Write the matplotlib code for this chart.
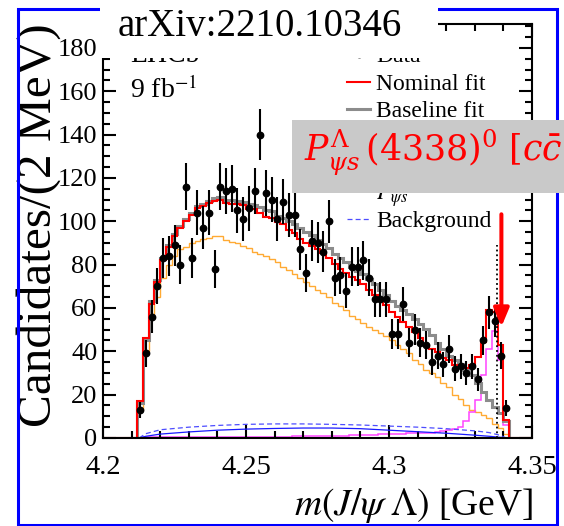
import matplotlib.pyplot as plt
import numpy as np
from matplotlib.patches import FancyArrowPatch, Rectangle
from matplotlib.ticker import MultipleLocator

plt.rcParams['font.family'] = 'Liberation Serif'
plt.rcParams['mathtext.fontset'] = 'stix'

W, H = 564, 526

# 2 MeV bins from 4.200 to 4.350 GeV, the filled ones start at 4.212 GeV
bin_edges = np.round(np.linspace(4.200, 4.350, 76), 3)
first_bin = 6

data = [13, 39, 56, 70, 83, 84, 89, 80, 116, 83,
        104, 97, 104, 78, 116, 114, 115, 105, 101, 106,
        114, 140, 113, 110, 101, 109, 103, 103, 87, 76,
        91, 90, 86, 100, 74, 75, 68, 79, 79, 82,
        74, 64, 64, 64, 48, 48, 62, 44, 50, 44,
        43, 35, 38, 34, 41, 32, 33, 30, 33, 27,
        45, 58, 54, 38, 14]

nominal_fit = [17, 46, 62, 72, 82, 88, 93, 97, 100, 103,
               106, 107, 108.5, 109.5, 110, 108.5, 108, 108, 107.5, 105.5,
               105.5, 104, 102, 101.5, 99.5, 98.5, 96, 94.5, 92, 90,
               88.5, 87, 85.5, 83, 80.5, 78, 76, 74.5, 73, 71,
               68.5, 66, 64, 61.5, 58, 56, 53.5, 51, 49, 46,
               43, 41, 39.5, 37, 36, 33.5, 33, 32.5, 33.5, 37.5,
               44.5, 59, 58, 43, 8.5]

baseline_fit = [16, 45, 63, 73, 83, 89, 94, 98, 101, 104,
                107, 108, 109.5, 110.5, 111, 110, 110, 109.5, 109, 108,
                107.5, 106.5, 105, 104.5, 102.5, 101.5, 100, 98.5, 97, 95,
                93.5, 91.5, 89.5, 87.5, 85, 83, 81, 79, 77, 75.5,
                73.5, 71, 68.5, 66, 63, 61, 59, 57, 55, 52.5,
                50.5, 47.5, 44, 41, 38, 36, 34, 31.5, 29, 25.5,
                21, 17.5, 14.5, 11.5, 8]

nr_comp = [13, 40, 57, 65, 74, 80, 84, 87, 88, 90,
           91, 92, 92.5, 93, 93, 91.5, 90.5, 90, 88.5, 87.5,
           86, 85, 84, 82.5, 81, 79, 77.5, 75.5, 74, 72,
           70, 68.5, 67, 65, 62.5, 61, 59, 56.5, 55, 53,
           51, 50, 48.5, 47, 45, 43, 41, 39, 36, 34,
           31.5, 30, 28, 25.5, 23.5, 20, 18, 15, 13, 12,
           10.5, 9, 6.5, 4.5, 2]

pcs_comp = [0.2, 0.3, 0.3, 0.3, 0.3, 0.3, 0.3, 0.3, 0.3, 0.3,
            0.3, 0.3, 0.3, 0.4, 0.4, 0.4, 0.4, 0.4, 0.4, 0.5,
            0.5, 0.5, 0.5, 0.5, 0.6, 0.6, 0.6, 0.7, 0.7, 0.7,
            0.8, 0.8, 0.9, 0.9, 1.0, 1.0, 1.1, 1.2, 1.3, 1.4,
            1.5, 1.6, 1.7, 1.8, 1.9, 2.0, 2.0, 2.1, 2.1, 2.2,
            2.2, 2.3, 2.6, 3.0, 3.5, 4.2, 5.2, 8, 12, 17.5,
            29, 41, 49.5, 36, 6]

# smooth background shapes
bkg_mass = [4.2126, 4.215, 4.22, 4.23, 4.24, 4.25, 4.26, 4.27, 4.28,
            4.29, 4.30, 4.31, 4.32, 4.33, 4.335, 4.339, 4.341]
bkg_total = [0, 2.0, 3.8, 5.0, 5.8, 6.3, 6.5, 6.5, 6.3,
             6.0, 5.5, 5.0, 4.3, 3.3, 2.5, 1.2, 0]
bkg_part = [0, 0.8, 1.8, 2.8, 3.6, 4.1, 4.4, 4.6, 4.6,
            4.3, 3.6, 2.9, 2.2, 1.3, 0.8, 0.3, 0]

threshold = 4.3378
threshold_top = 89
arrow_mass = 4.3393
arrow_from, arrow_to = 104.5, 50

xtick_vals = [4.2, 4.25, 4.3, 4.35]
xtick_labels = ['4.2', '4.25', '4.3', '4.35']


def full(v):
    v = np.asarray(v, float)
    n_after = len(bin_edges) - 1 - first_bin - len(v)
    return np.concatenate([np.zeros(first_bin), v, np.zeros(n_after)])


def fx(px):
    return px / W


def fy(py):
    return 1 - py / H


fig = plt.figure(figsize=(W / 100, H / 100), dpi=100)
ax = fig.add_axes([fx(103), fy(438), (532 - 103) / W, (438 - 24) / H])

ax.stairs(full(nr_comp), bin_edges, color='#ffaa33', lw=1.0)
ax.stairs(full(pcs_comp), bin_edges, color='#ff44ff', lw=1.1)
ax.plot(bkg_mass, bkg_part, color='#1a1aff', lw=0.9)
ax.plot(bkg_mass, bkg_total, color='#4d4dff', lw=0.9, ls=(0, (4, 2.5)))
ax.stairs(full(baseline_fit), bin_edges, color='#8c8c8c', lw=2.2)
ax.stairs(full(nominal_fit), bin_edges, color='red', lw=1.5)

centers = bin_edges[first_bin:first_bin + len(data)] + 0.001
ax.errorbar(centers, data, yerr=np.sqrt(data), fmt='o', color='black',
            ms=4.6, elinewidth=1.5, capsize=0, zorder=5)

ax.plot([threshold, threshold], [0, threshold_top], color='black', ls=':', lw=1.3)
ax.add_patch(FancyArrowPatch((arrow_mass, arrow_from), (arrow_mass, arrow_to),
                             arrowstyle='-|>,head_length=11,head_width=4.6',
                             mutation_scale=1, lw=2.9, color='red', zorder=6))

ax.set_xlim(4.2, 4.35)
ax.set_ylim(0, 191)
ax.set_xticks(xtick_vals, xtick_labels)
ax.xaxis.set_minor_locator(MultipleLocator(0.01))
ax.yaxis.set_major_locator(MultipleLocator(20))
ax.yaxis.set_minor_locator(MultipleLocator(5))
ax.tick_params(which='both', direction='in', top=True, right=True, width=1.5)
ax.tick_params(which='major', length=9.5)
ax.tick_params(which='minor', length=4.7)
ax.tick_params(axis='x', labelsize=20.5, pad=12)
ax.tick_params(axis='y', labelsize=19, pad=4)
for s in ax.spines.values():
    s.set_linewidth(1.5)

fig.text(fx(39), fy(23), 'Candidates/(2 MeV)', rotation=90, ha='center', va='top',
         fontsize=35.5)
fig.text(fx(533), fy(515), r'$m(J/\psi\;\mathit{\Lambda})$ [GeV]', ha='right',
         va='baseline', fontsize=27)

ax.text(fx(130), fy(62), 'LHCb', transform=fig.transFigure, fontsize=20, va='baseline')
ax.text(fx(130), fy(98), r'9 fb$^{-1}$', transform=fig.transFigure, fontsize=20,
        va='baseline')

# legend, drawn by hand row by row
rows = 54.2 + 27.5 * np.arange(7)
legend_entries = [
    (0, 'Data', dict(color='black', lw=1.5), 'o'),
    (1, 'Nominal fit', dict(color='red', lw=1.5), None),
    (2, 'Baseline fit', dict(color='#8c8c8c', lw=2.2), None),
    (5, r'$P_{\psi s}$', dict(color='#ff44ff', lw=1.1), None),
    (6, 'Background', dict(color='#4d4dff', lw=0.9, ls=(0, (4, 2.5))), None),
]
for row, label, style, marker in legend_entries:
    y = rows[row]
    ax.plot([fx(347), fx(370)], [fy(y), fy(y)], transform=fig.transFigure, **style)
    if marker:
        ax.plot([fx(358.5)], [fy(y)], marker, color='black', ms=4.6,
                transform=fig.transFigure)
    ax.text(fx(376), fy(y + 8), label, transform=fig.transFigure, fontsize=17,
            va='baseline')

# frame and overlays on the figure
fig.add_artist(Rectangle((fx(18), fy(525)), (557 - 18) / W, (525 - 9) / H,
                         transform=fig.transFigure, fill=False,
                         edgecolor='#0000ff', lw=2.2, zorder=4))
fig.add_artist(Rectangle((fx(100), fy(58)), (438 - 100) / W, 58 / H,
                         transform=fig.transFigure, facecolor='white',
                         edgecolor='none', zorder=5))
fig.text(fx(118), fy(36), 'arXiv:2210.10346', fontsize=28, va='baseline', zorder=6)
fig.add_artist(Rectangle((fx(292), fy(193)), (W - 292) / W + 0.01, 73 / H,
                         transform=fig.transFigure, facecolor='#c9c9c9',
                         edgecolor='none', zorder=6))
fig.text(fx(304), fy(161), r'$P_{\psi s}^{\Lambda}\,(4338)^{0}\ [c\bar{c}uds]$',
         color='red', fontsize=25, va='baseline', zorder=7,
         math_fontfamily='dejavuserif')

fig.savefig('out.png', dpi=100)
